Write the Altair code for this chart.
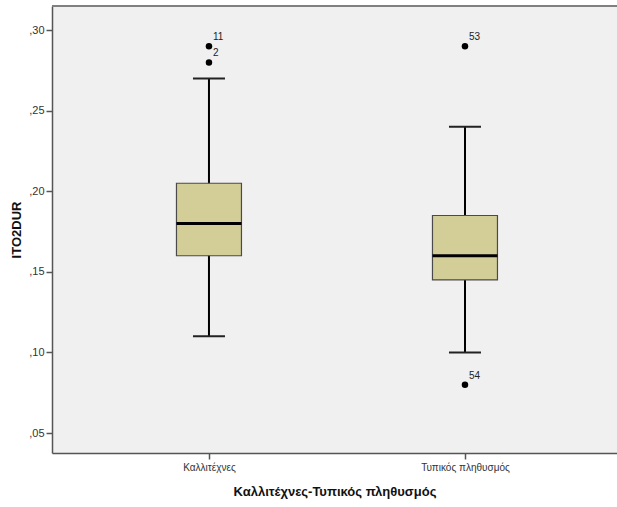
import altair as alt
import pandas as pd

# Summary statistics of ITO2DUR per group
groups = ["Καλλιτέχνες", "Τυπικός πληθυσμός"]
whisker_low = [0.11, 0.10]
q1 = [0.16, 0.145]
median = [0.18, 0.16]
q3 = [0.205, 0.185]
whisker_high = [0.27, 0.24]

# Outlying cases with their case numbers
outlier_group = ["Καλλιτέχνες", "Καλλιτέχνες", "Τυπικός πληθυσμός", "Τυπικός πληθυσμός"]
outlier_value = [0.29, 0.28, 0.29, 0.08]
outlier_case = ["11", "2", "53", "54"]

y_ticks = [0.05, 0.10, 0.15, 0.20, 0.25, 0.30]

FONT = "Liberation Sans"
W, H = 565, 447

stats = pd.DataFrame({
    "group": groups, "lo": whisker_low, "q1": q1, "med": median,
    "q3": q3, "hi": whisker_high,
})
outliers = pd.DataFrame({"group": outlier_group, "v": outlier_value, "case": outlier_case})

x_scale = alt.Scale(type="point", domain=groups, padding=0.6035, align=0.508)
y_scale = alt.Scale(domain=[0.0376, 0.315], nice=False, zero=False)

x_enc = alt.X(
    "group:N", scale=x_scale, title="Καλλιτέχνες-Τυπικός πληθυσμός",
    axis=alt.Axis(
        labelAngle=0, labelFontSize=10, labelColor="#333333", labelFont=FONT,
        labelPadding=3, tickSize=6, tickColor="#555555", tickWidth=1.5,
        domainColor="#555555", domainWidth=1.5,
        titleFont=FONT, titleFontSize=13, titleFontWeight="bold",
        titleColor="#111111", titlePadding=13,
    ),
)

base = alt.Chart(stats)

whiskers = base.mark_rule(color="black", strokeWidth=2).encode(
    x=x_enc,
    y=alt.Y(
        "lo:Q", scale=y_scale, title="ITO2DUR",
        axis=alt.Axis(
            values=y_ticks, grid=False,
            labelExpr="replace(format(datum.value, '.2f'), '0.', ',')",
            labelFontSize=11, labelColor="#333333", labelFont=FONT, labelPadding=2,
            tickSize=6, tickColor="#555555", tickWidth=1.5,
            domainColor="#555555", domainWidth=1.5,
            titleFont=FONT, titleFontSize=13, titleFontWeight="bold",
            titleColor="#111111", titlePadding=5,
        ),
    ),
    y2="hi:Q",
)

caps_lo = base.mark_tick(size=32, thickness=2, color="#222222", opacity=1).encode(
    x=alt.X("group:N", scale=x_scale), y=alt.Y("lo:Q", scale=y_scale)
)
caps_hi = base.mark_tick(size=32, thickness=2, color="#222222", opacity=1).encode(
    x=alt.X("group:N", scale=x_scale), y=alt.Y("hi:Q", scale=y_scale)
)

boxes = base.mark_bar(
    size=65, color="#D3CE98", stroke="#4a4a4a", strokeWidth=1.2, opacity=1
).encode(
    x=alt.X("group:N", scale=x_scale), y=alt.Y("q1:Q", scale=y_scale), y2="q3:Q"
)

medians = base.mark_tick(size=65, thickness=3, color="black", opacity=1).encode(
    x=alt.X("group:N", scale=x_scale), y=alt.Y("med:Q", scale=y_scale)
)

out_base = alt.Chart(outliers)
out_points = out_base.mark_point(filled=True, size=42, color="black", opacity=1).encode(
    x=alt.X("group:N", scale=x_scale), y=alt.Y("v:Q", scale=y_scale)
)
out_labels = out_base.mark_text(
    align="left", baseline="middle", dx=4, dy=-9, fontSize=10, font=FONT, color="#222222"
).encode(
    x=alt.X("group:N", scale=x_scale), y=alt.Y("v:Q", scale=y_scale), text="case:N"
)

# top border of the plot frame
top_line = alt.Chart(pd.DataFrame({"a": [0]})).mark_rule(
    color="#808080", strokeWidth=2
).encode(x=alt.value(0), x2=alt.value(W + 5), y=alt.value(0))

chart = alt.layer(
    whiskers, caps_lo, caps_hi, boxes, medians, out_points, out_labels, top_line
).properties(
    width=W, height=H,
    padding={"left": 52, "top": 6, "right": 0, "bottom": 54},
    autosize="none",
    background="white",
).configure_view(fill="#F0F0F0", stroke=None)

chart.save("out.html", embed_options={"renderer": "svg", "actions": False})
